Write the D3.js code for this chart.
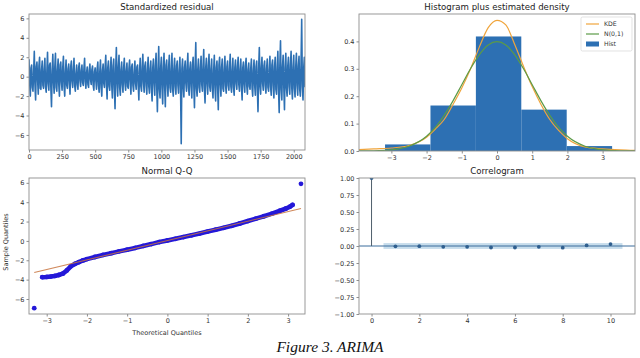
<!DOCTYPE html>
<html>
<head>
<meta charset="utf-8">
<script src="https://cdn.jsdelivr.net/npm/d3@7"></script>
<style>
body { margin: 0; background: #fff; }
text { font-family: 'DejaVu Sans', sans-serif; }
</style>
</head>
<body>
<div id="chart"></div>
<script>
// --- data ---
// standardized residual, one value every 5 observations
const residStep = 5
const resid = [
    1.8,-0.6,-2.0,0.9,1.2,-1.1,-1.5,0.4,2.6,-0.8,-2.4,1.0,1.5,-0.3,-1.8,1.1,2.0,-1.2,-1.3,0.7,
    1.6,-0.9,-1.2,0.8,1.9,-1.0,-1.6,0.5,2.5,-0.7,-1.4,1.2,1.4,-1.1,-3.1,0.6,2.3,-0.5,-1.7,1.0,
    2.4,-1.1,-1.5,0.6,1.8,-0.8,-2.0,1.2,1.5,-0.6,-1.4,0.9,2.1,-1.0,-2.0,0.4,1.7,-0.9,-1.2,0.8,
    1.3,-0.7,-1.8,1.0,1.6,-0.5,-1.1,0.7,1.9,-0.9,-1.5,0.3,1.2,-0.8,-1.3,0.9,1.4,-0.4,-1.0,0.6,
    1.2,-0.6,-0.9,0.8,1.9,-0.5,-1.2,0.4,1.0,-0.8,-1.1,0.6,1.3,-0.3,-0.8,0.7,1.1,-0.9,-1.4,0.5,
    0.9,-0.4,-1.3,0.8,1.5,-0.9,-1.6,0.5,1.7,-1.1,-2.0,0.6,1.3,-0.7,-1.1,1.0,2.2,-0.8,-2.3,0.9,
    1.6,-1.0,-1.4,0.7,2.0,-0.9,-2.2,1.1,1.8,-1.2,-3.3,0.8,3.0,-0.6,-2.0,1.0,2.2,-1.1,-1.9,0.7,
    1.5,-0.8,-1.6,0.9,1.9,-0.7,-1.4,0.6,1.4,-1.0,-1.2,0.8,1.7,-0.5,-1.8,1.0,1.3,-0.9,-1.5,0.4,
    1.6,-0.7,-1.3,1.0,1.2,-0.8,-2.4,0.5,1.9,-1.0,-1.5,0.9,2.3,-0.6,-1.6,1.1,1.5,-0.9,-1.8,0.6,
    2.0,-1.0,-1.7,0.8,1.6,-1.2,-2.5,0.9,1.8,-0.7,-1.9,1.1,2.4,-1.0,-3.6,0.6,3.1,-1.3,-2.2,1.0,
    2.0,-1.2,-2.8,0.9,2.4,-1.0,-3.1,1.2,1.7,-0.8,-2.0,1.0,2.2,-1.1,-1.6,0.7,2.4,-1.3,-2.0,0.8,
    1.9,-1.0,-1.8,1.1,1.6,-0.9,-1.7,0.6,2.0,-1.2,-6.9,0.8,1.8,-1.0,-2.1,0.9,1.6,-0.7,-1.5,1.0,
    2.4,-1.1,-1.9,0.8,1.5,-1.0,-2.2,1.2,2.0,-0.9,-3.2,1.0,3.5,-1.2,-2.0,0.7,1.8,-1.1,-1.6,0.9,
    2.1,-0.8,-1.5,1.0,2.8,-1.2,-2.7,0.9,1.9,-0.7,-1.8,1.1,2.3,-1.0,-1.5,0.8,1.8,-1.2,-2.2,0.6,
    2.2,-1.1,-2.5,0.9,1.6,-1.0,-3.4,1.2,2.0,-0.8,-2.0,1.0,1.8,-1.2,-1.5,0.7,2.1,-0.9,-1.7,1.0,
    1.6,-0.9,-1.4,0.8,2.3,-1.0,-1.6,0.6,1.9,-1.1,-1.9,0.9,1.7,-0.7,-1.3,1.0,2.0,-0.8,-1.5,0.7,
    1.8,-1.0,-2.4,0.9,1.5,-0.8,-1.6,1.1,1.9,-0.9,-1.8,0.7,1.4,-1.0,-1.3,0.8,1.8,-1.1,-2.0,0.6,
    1.7,-0.9,-1.9,1.0,1.6,-1.2,-3.6,0.8,3.0,-1.0,-1.8,0.9,2.0,-0.7,-1.4,1.1,1.6,-0.9,-1.7,0.8,
    1.8,-1.1,-1.5,0.7,2.1,-1.0,-1.9,1.2,1.7,-0.9,-2.2,1.0,2.0,-1.3,-1.8,0.9,2.6,-1.2,-3.7,1.1,
    3.7,-1.3,-2.4,1.0,2.2,-1.1,-3.4,0.9,2.4,-1.2,-2.0,1.1,2.0,-1.0,-1.8,1.2,2.6,-1.1,-2.3,0.9,
    2.2,-1.2,-2.1,1.0,2.4,-0.9,-1.9,1.1,2.1,-1.3,-2.0,1.2,5.9,-1.0,-2.4,0.8,2.0,-1.1
]
const residXTicks = [0, 250, 500, 750, 1000, 1250, 1500, 1750, 2000]
const residYTicks = [-6, -4, -2, 0, 2, 4, 6]

// histogram bins (edges) and densities
const histEdges = [-3.18, -1.89, -0.60, 0.69, 1.98, 3.27, 4.56]
const histDensity = [0.024, 0.166, 0.418, 0.151, 0.018, 0.001]
const densX = [-3.92, -3.5, -3, -2.5, -2, -1.75, -1.5, -1.25, -1, -0.75, -0.5, -0.25, 0, 0.25, 0.5, 0.75, 1, 1.25, 1.5, 1.75, 2, 2.5, 3, 3.5, 3.92]
const kdeY = [0.005, 0.008, 0.011, 0.02, 0.05, 0.08, 0.115, 0.17, 0.23, 0.3, 0.38, 0.45, 0.477, 0.46, 0.39, 0.31, 0.235, 0.17, 0.115, 0.075, 0.045, 0.015, 0.008, 0.004, 0.002]
const normY = [0.0002, 0.0009, 0.0044, 0.0175, 0.054, 0.086, 0.13, 0.183, 0.242, 0.301, 0.352, 0.387, 0.399, 0.387, 0.352, 0.301, 0.242, 0.183, 0.13, 0.086, 0.054, 0.0175, 0.0044, 0.0009, 0.0002]
const histXTicks = [-3, -2, -1, 0, 1, 2, 3]
const histYTicks = [0, 0.1, 0.2, 0.3, 0.4]
const legendLabels = ['KDE', 'N(0,1)', 'Hist']

// normal Q-Q
const qqX = [-3.31, -3.11, -3.0, -2.9, -2.8, -2.7, -2.6, -2.5, -2.4, -2.3, -2.2, -2.1, -2.0, -1.8, -1.6, -1.4, -1.2, -1.0, -0.8, -0.6, -0.4, -0.2, 0, 0.2, 0.4, 0.6, 0.8, 1.0, 1.2, 1.4, 1.6, 1.8, 2.0, 2.2, 2.4, 2.6, 2.8, 2.95, 3.05, 3.11, 3.32]
const qqY = [-6.95, -3.75, -3.72, -3.68, -3.62, -3.52, -3.38, -3.05, -2.62, -2.38, -2.2, -2.02, -1.88, -1.66, -1.45, -1.27, -1.08, -0.9, -0.72, -0.52, -0.33, -0.12, 0.05, 0.22, 0.4, 0.58, 0.76, 0.97, 1.16, 1.35, 1.56, 1.8, 2.05, 2.3, 2.55, 2.82, 3.12, 3.35, 3.55, 3.72, 5.9]
const qqLineX = [-3.31, 3.32]
const qqLineY = [-3.27, 3.35]
const qqXTicks = [-3, -2, -1, 0, 1, 2, 3]
const qqYTicks = [-6, -4, -2, 0, 2, 4, 6]

// correlogram
const lags = [0, 1, 2, 3, 4, 5, 6, 7, 8, 9, 10]
const acf = [1.0, -0.005, -0.003, -0.012, -0.012, -0.022, -0.022, -0.012, -0.024, 0.008, 0.028]
const confBand = 0.043
const acfXTicks = [0, 2, 4, 6, 8, 10]
const acfYTicks = [-1, -0.75, -0.5, -0.25, 0, 0.25, 0.5, 0.75, 1]

const C0 = '#2d70b3'
const spine = '#8e8e8e'
const ink = '#333'

const svg = d3.select('#chart')
            .append('svg')
                .attr('width', 640)
                .attr('height', 358)

// one subplot: frame, ticks, title, clip
let clipId = 0
const panel = (box, xDom, yDom, xTicks, yTicks, xFmt, yFmt, title) => {
    const x = d3.scaleLinear().domain(xDom).range([box.x, box.x + box.w])
    const y = d3.scaleLinear().domain(yDom).range([box.y + box.h, box.y])
    const id = 'clip' + (clipId++)
    svg.append('clipPath').attr('id', id)
        .append('rect')
            .attr('x', box.x).attr('y', box.y)
            .attr('width', box.w).attr('height', box.h)
    const g = svg.append('g')
    const plot = g.append('g').attr('clip-path', `url(#${id})`)

    const ax = g.append('g')
                .attr('transform', `translate(0,${box.y + box.h})`)
                .call(d3.axisBottom(x).tickValues(xTicks).tickSize(2.5).tickPadding(2).tickFormat(xFmt))
    const ay = g.append('g')
                .attr('transform', `translate(${box.x},0)`)
                .call(d3.axisLeft(y).tickValues(yTicks).tickSize(2.5).tickPadding(2).tickFormat(yFmt))
    for (const a of [ax, ay]) {
        a.select('.domain').remove()
        a.selectAll('line').attr('stroke', spine)
        a.selectAll('text').attr('fill', ink).style('font-size', '6.5px').style('font-family', 'DejaVu Sans')
    }
    g.append('rect')
        .attr('x', box.x).attr('y', box.y)
        .attr('width', box.w).attr('height', box.h)
        .attr('fill', 'none').attr('stroke', spine).attr('stroke-width', 0.9)
    g.append('text')
        .attr('x', box.x + box.w / 2).attr('y', box.y - 4)
        .attr('text-anchor', 'middle')
        .attr('fill', '#222')
        .style('font-size', '8.6px')
        .text(title)
    return { x, y, plot, g }
}

const fmt0 = d3.format('d')

// top-left: standardized residual
{
    const p = panel({ x: 29, y: 14, w: 276, h: 136 }, [0, 2085], [-7.55, 6.45],
        residXTicks, residYTicks, fmt0, fmt0, 'Standardized residual')
    p.plot.append('path')
        .datum(resid)
        .attr('fill', 'none')
        .attr('stroke', C0)
        .attr('stroke-width', 1.6)
        .attr('stroke-linejoin', 'round')
        .attr('d', d3.line().x((d, i) => p.x(i * residStep)).y(d => p.y(d)))
}

// top-right: histogram plus estimated density
{
    const p = panel({ x: 359, y: 14, w: 276, h: 137 }, [-3.92, 3.92], [0, 0.5],
        histXTicks, histYTicks, fmt0, d3.format('.1f'), 'Histogram plus estimated density')
    p.plot.selectAll('rect.bar')
        .data(histDensity)
        .enter()
        .append('rect')
            .attr('class', 'bar')
            .attr('x', (d, i) => p.x(histEdges[i]))
            .attr('width', (d, i) => p.x(histEdges[i + 1]) - p.x(histEdges[i]))
            .attr('y', d => p.y(d))
            .attr('height', d => p.y(0) - p.y(d))
            .attr('fill', C0)
    const curve = (ys, color) => p.plot.append('path')
        .datum(ys)
        .attr('fill', 'none')
        .attr('stroke', color)
        .attr('stroke-width', 1.2)
        .attr('d', d3.line().curve(d3.curveMonotoneX).x((d, i) => p.x(densX[i])).y(d => p.y(d)))
    curve(kdeY, '#f0a53c')
    curve(normY, '#5c9a47')

    // legend
    const lg = p.g.append('g').attr('transform', 'translate(581,17)')
    lg.append('rect')
        .attr('width', 51).attr('height', 34).attr('rx', 1.5)
        .attr('fill', '#fff').attr('fill-opacity', 0.85)
        .attr('stroke', '#d5d5d5').attr('stroke-width', 0.7)
    const colors = ['#f0a53c', '#5c9a47', C0]
    legendLabels.forEach((t, i) => {
        const yy = 7 + i * 10
        if (i < 2) {
            lg.append('line')
                .attr('x1', 5).attr('x2', 18).attr('y1', yy).attr('y2', yy)
                .attr('stroke', colors[i]).attr('stroke-width', 1.2)
        } else {
            lg.append('rect')
                .attr('x', 5).attr('y', yy - 2.5).attr('width', 13).attr('height', 5)
                .attr('fill', colors[i])
        }
        lg.append('text')
            .attr('x', 23).attr('y', yy + 2.2)
            .attr('fill', ink)
            .style('font-size', '6.2px')
            .text(t)
    })
}

// bottom-left: normal Q-Q
{
    const p = panel({ x: 29, y: 178, w: 276, h: 136 }, [-3.44, 3.42], [-7.55, 6.5],
        qqXTicks, qqYTicks, fmt0, fmt0, 'Normal Q-Q')
    const blue = '#2418d8'
    const inner = qqX.map((d, i) => [d, qqY[i]]).slice(1, -1)
    p.plot.append('path')
        .datum(inner)
        .attr('fill', 'none')
        .attr('stroke', blue)
        .attr('stroke-width', 4.6)
        .attr('stroke-linecap', 'round')
        .attr('stroke-linejoin', 'round')
        .attr('d', d3.line().x(d => p.x(d[0])).y(d => p.y(d[1])))
    p.plot.selectAll('circle')
        .data(qqX)
        .enter()
        .append('circle')
            .attr('cx', d => p.x(d))
            .attr('cy', (d, i) => p.y(qqY[i]))
            .attr('r', 2.4)
            .attr('fill', blue)
    p.plot.append('path')
        .datum(qqLineX.map((d, i) => [d, qqLineY[i]]))
        .attr('fill', 'none')
        .attr('stroke', '#c8743f')
        .attr('stroke-opacity', 0.85)
        .attr('stroke-width', 1.1)
        .attr('d', d3.line().x(d => p.x(d[0])).y(d => p.y(d[1])))
    p.g.append('text')
        .attr('x', p.x(0) - 0.5).attr('y', 335)
        .attr('text-anchor', 'middle')
        .attr('fill', ink)
        .style('font-size', '6.5px')
        .text('Theoretical Quantiles')
    p.g.append('text')
        .attr('transform', 'translate(8,242) rotate(-90)')
        .attr('text-anchor', 'middle')
        .attr('fill', ink)
        .style('font-size', '6.5px')
        .text('Sample Quantiles')
}

// bottom-right: correlogram
{
    const p = panel({ x: 359, y: 178, w: 276, h: 136 }, [-0.525, 11.025], [-1, 1],
        acfXTicks, acfYTicks, fmt0, d3.format('.2f'), 'Correlogram')
    p.plot.append('rect')
        .attr('x', p.x(0.5)).attr('width', p.x(10.5) - p.x(0.5))
        .attr('y', p.y(confBand)).attr('height', p.y(-confBand) - p.y(confBand))
        .attr('fill', '#1f77b4').attr('fill-opacity', 0.25)
    p.plot.append('line')
        .attr('x1', p.x(-0.525)).attr('x2', p.x(11.025))
        .attr('y1', p.y(0)).attr('y2', p.y(0))
        .attr('stroke', '#3b6c9c').attr('stroke-width', 1)
    p.plot.selectAll('line.stem')
        .data(lags)
        .enter()
        .append('line')
            .attr('class', 'stem')
            .attr('x1', d => p.x(d)).attr('x2', d => p.x(d))
            .attr('y1', p.y(0)).attr('y2', (d, i) => p.y(acf[i]))
            .attr('stroke', '#4f5e6c').attr('stroke-width', 1)
    p.plot.selectAll('circle')
        .data(lags)
        .enter()
        .append('circle')
            .attr('cx', d => p.x(d))
            .attr('cy', (d, i) => p.y(acf[i]))
            .attr('r', 1.9)
            .attr('fill', '#2f5f8f')
}

// caption
svg.append('text')
    .attr('x', 330).attr('y', 352)
    .attr('text-anchor', 'middle')
    .style('font-family', "'Liberation Serif', serif")
    .style('font-style', 'italic')
    .style('font-size', '15.5px')
    .attr('fill', '#111')
    .text('Figure 3. ARIMA')
</script>
</body>
</html>
